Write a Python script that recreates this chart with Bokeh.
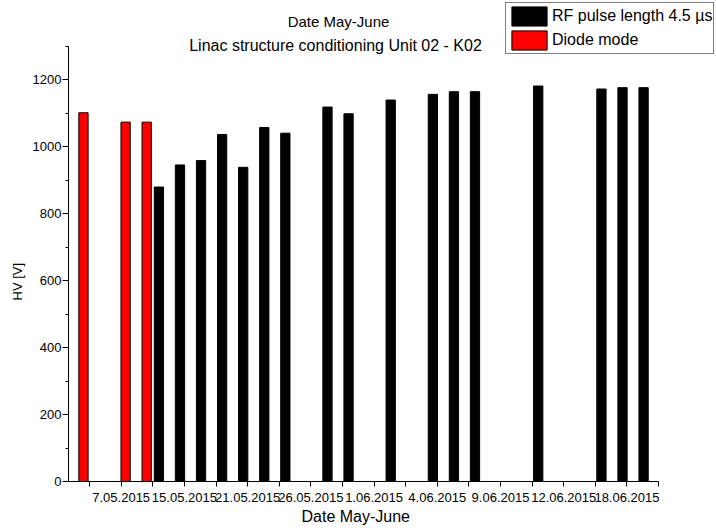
from bokeh.plotting import figure
from bokeh.models import (Range1d, FixedTicker, Label, Legend, LegendItem,
                          ColumnDataSource, Title)
from bokeh.transform import dodge
from bokeh.embed import file_html
from bokeh.resources import INLINE

# ---- data ----
diode_slot = [1, 3, 4]
diode_hv = [1102, 1074, 1074]
rf_slot = [4, 5, 6, 7, 8, 9, 10, 12, 13, 15, 17, 18, 19, 22, 25, 26, 27]
rf_hv = [880, 946, 959, 1037, 939, 1058, 1041, 1119, 1099, 1140, 1157, 1165, 1165,
         1182, 1173, 1177, 1177]
date_tick_pos = [2.5, 5.5, 8.5, 11.5, 14.5, 17.5, 20.5, 23.5, 26.5]
date_tick_labels = ["7.05.2015", "15.05.2015", "21.05.2015", "26.05.2015", "1.06.2015",
                    "4.06.2015", "9.06.2015", "12.06.2015", "18.06.2015"]
date_minor_pos = [1, 4, 7, 10, 13, 16, 19, 22, 25, 28]
hv_major = [0, 200, 400, 600, 800, 1000, 1200]
hv_minor = [100, 300, 500, 700, 900, 1100, 1300]

FONT = "Liberation Sans"

# frame spans the top and right of the canvas so titles/legend are not clipped;
# the axes themselves are bounded to the data extent (0..28, 0..1300)
p = figure(width=716, height=528, x_range=Range1d(0, 30.75), y_range=Range1d(0, 1437.5),
           output_backend="svg", toolbar_location=None, title=None,
           min_border_left=68, min_border_right=0, min_border_top=0, min_border_bottom=47)
p.xgrid.grid_line_color = None
p.ygrid.grid_line_color = None
p.outline_line_color = None
p.background_fill_color = "white"
p.border_fill_color = "white"

src_d = ColumnDataSource(dict(slot=diode_slot, hv=diode_hv))
src_r = ColumnDataSource(dict(slot=rf_slot, hv=rf_hv))
r_d = p.vbar(x=dodge("slot", -0.29), top="hv", bottom=0, width=0.44, source=src_d,
             fill_color="#ff0000", line_color="#000000", line_width=1)
r_r = p.vbar(x=dodge("slot", 0.29), top="hv", bottom=0, width=0.44, source=src_r,
             fill_color="#000000", line_color="#000000", line_width=1)

# x axis
xa = p.xaxis[0]
xa.bounds = (0, 28)
xa.ticker = FixedTicker(ticks=date_tick_pos, minor_ticks=date_minor_pos)
xa.major_label_overrides = {float(k): v for k, v in zip(date_tick_pos, date_tick_labels)}
xa.major_tick_in = 0
xa.major_tick_out = 5
xa.minor_tick_in = 0
xa.minor_tick_out = 5
xa.major_label_standoff = 6
xa.major_label_text_font = FONT
xa.major_label_text_font_size = "13px"
xa.major_label_text_color = "#000000"
xa.axis_line_color = "#000000"

# y axis
ya = p.yaxis[0]
ya.bounds = (0, 1300)
ya.ticker = FixedTicker(ticks=hv_major, minor_ticks=hv_minor)
ya.major_tick_in = 0
ya.major_tick_out = 6
ya.minor_tick_in = 0
ya.minor_tick_out = 3
ya.major_label_standoff = 1
ya.major_label_text_font = FONT
ya.major_label_text_font_size = "13px"
ya.major_label_text_color = "#000000"
ya.axis_line_color = "#000000"

# axis titles (offset along the axis as in the reference)
p.add_layout(Title(text="Date May-June", align="left", offset=233, standoff=2,
                   text_font=FONT, text_font_size="16px", text_font_style="normal",
                   text_color="#000000"), "below")
p.add_layout(Title(text="HV [V]", align="left", offset=181, standoff=10,
                   text_font=FONT, text_font_size="13px", text_font_style="normal",
                   text_color="#000000"), "left")

# titles at the top
p.add_layout(Label(x=270, y=460, x_units="screen", y_units="screen", text="Date May-June",
                   text_align="center", text_baseline="middle", text_font=FONT,
                   text_font_size="15px", text_color="#000000"))
p.add_layout(Label(x=267, y=436, x_units="screen", y_units="screen",
                   text="Linac structure conditioning Unit 02 - K02",
                   text_align="center", text_baseline="middle", text_font=FONT,
                   text_font_size="16px", text_color="#000000"))

legend = Legend(items=[LegendItem(label="RF pulse length 4.5 µs", renderers=[r_r]),
                       LegendItem(label="Diode mode", renderers=[r_d])],
                location=(437, 427), orientation="vertical",
                border_line_color="#000000", border_line_width=1,
                background_fill_color="white", background_fill_alpha=1,
                label_text_font=FONT, label_text_font_size="16px", label_text_color="#000000",
                glyph_width=44, glyph_height=24, label_standoff=1, spacing=0,
                padding=1, margin=0, label_height=20)
p.add_layout(legend)

open("out.html", "w").write(file_html(p, INLINE))
